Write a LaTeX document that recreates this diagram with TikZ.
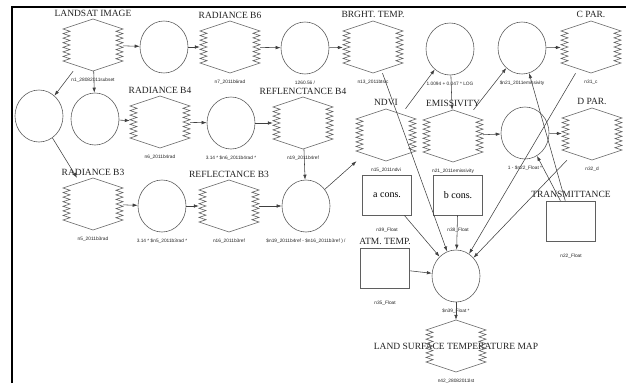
\documentclass[tikz,border=0pt]{standalone}
\usepackage{fontspec}
\setmainfont{Liberation Serif}
\setsansfont{Liberation Sans}
\usetikzlibrary{arrows.meta,shapes.geometric}
\definecolor{LineGray}{RGB}{95,95,95}
\definecolor{TextDark}{RGB}{35,35,35}
\tikzset{
  hexnode/.style={inner sep=0pt,minimum width=60pt,minimum height=52pt},
  opnode/.style={ellipse,draw=LineGray,line width=0.6pt,
    minimum width=48pt,minimum height=52pt,inner sep=0pt},
  valbox/.style={draw=LineGray,line width=0.6pt,minimum width=49pt,
    minimum height=40pt,inner sep=0pt,font=\fontsize{10}{11}\selectfont},
  shapeline/.style={draw=LineGray,line width=0.6pt},
  caplab/.style={font=\fontsize{9.5}{10}\selectfont,text=TextDark,inner sep=0.5pt},
  sublab/.style={font=\sffamily\fontsize{4.8}{5}\selectfont,text=TextDark,
    inner sep=0.5pt,yshift=-4pt},
  boxsub/.style={sublab,yshift=-6pt},
  arrow/.style={-{Latex[length=5pt,width=3.5pt]},line width=0.55pt,draw=black!75},
  frame/.style={line width=2.2pt,black}
}
% zigzag hexagon round a hexnode
\newcommand{\zighex}[1]{%
  \draw[shapeline,shift={(#1.center)}] (0,-26) -- (-30,-16)
    foreach \k in {1,...,7}{ -- (-23,{-16+(\k-0.5)*32/7}) -- (-30,{-16+\k*32/7})}
    -- (0,26) -- (30,16)
    foreach \k in {1,...,7}{ -- (23,{16-(\k-0.5)*32/7}) -- (30,{16-\k*32/7})}
    -- cycle;}

\begin{document}
\begin{tikzpicture}[x=1pt,y=-1pt,label distance=2pt]
  \useasboundingbox (0,0) rectangle (626,383);
  \draw[frame] (12,383) -- (12,7) -- (626,7);
  % top row
  \node[hexnode,label={[caplab]above:LANDSAT IMAGE},label={[sublab]below:n1\_28082011subset}] (n1) at (93,45) {};
  \node[opnode] (gain6) at (164,47) {};
  \node[hexnode,label={[caplab]above:RADIANCE B6},label={[sublab]below:n7\_2011b6rad}] (n7) at (230,47) {};
  \node[opnode,label={[sublab]below:1260.56 /}] (tconv) at (305,48) {};
  \node[hexnode,label={[caplab]above:BRGHT. TEMP.},label={[sublab]below:n13\_2011btsic}] (n13) at (373,47) {};
  \node[opnode,label={[sublab]below:1.0094 + 0.047 * LOG}] (emisop) at (450,49) {};
  \node[opnode,label={[sublab]below:\$n21\_2011emissivity}] (cop) at (522,48) {};
  \node[hexnode,label={[caplab]above:C PAR.},label={[sublab]below:n31\_c}] (n31) at (591,47) {};
  % middle row
  \node[opnode] (sel3) at (39,116) {};
  \node[opnode] (sel4) at (95,119) {};
  \node[hexnode,label={[caplab]above:RADIANCE B4},label={[sublab]below:n6\_2011b4rad}] (n6) at (160,122) {};
  \node[opnode,label={[sublab]below:3.14 * \$n6\_2011b4rad *}] (ref4op) at (231,123) {};
  \node[hexnode,label={[caplab]above:REFLENCTANCE B4},label={[sublab]below:n19\_2011b4ref}] (n19) at (303,123) {};
  \node[hexnode,label={[caplab]above:NDVI},label={[sublab]below:n15\_2011ndvi}] (n15) at (386,135) {};
  \node[hexnode,label={[caplab]above:EMISSIVITY},label={[sublab]below:n21\_2011emissivity}] (n21) at (453,136) {};
  \node[opnode,label={[sublab]below:1 - \$n22\_Float *}] (dop) at (525,133) {};
  \node[hexnode,label={[caplab]above:D PAR.},label={[sublab]below:n32\_d}] (n32) at (592,134) {};
  % bottom row
  \node[hexnode,label={[caplab]above:RADIANCE B3},label={[sublab]below:n5\_2011b3rad}] (n5) at (93,204) {};
  \node[opnode,label={[sublab]below:3.14 * \$n5\_2011b3rad *}] (ref3op) at (162,206) {};
  \node[hexnode,label={[caplab]above:REFLECTANCE B3},label={[sublab]below:n16\_2011b3ref}] (n16) at (229,206) {};
  \node[opnode,label={[sublab]below:\$n19\_2011b4ref - \$n16\_2011b3ref ) /}] (ndviop) at (306,206) {};
  % constants and result
  \node[valbox,label={[boxsub]below:n39\_Float}] (n39) at (387,195) {a cons.};
  \node[valbox,label={[boxsub]below:n38\_Float}] (n38) at (458,195) {b cons.};
  \node[valbox,label={[caplab]above:TRANSMITTANCE},label={[boxsub]below:n22\_Float}] (n22) at (571,221) {};
  \node[valbox,label={[caplab]above:ATM. TEMP.},label={[boxsub]below:n35\_Float}] (n35) at (385,268) {};
  \node[opnode,label={[sublab]below:\$n39\_Float *}] (lstop) at (456,276) {};
  \node[hexnode,caplab,label={[sublab]below:n42\_28082011lst}] (n42) at (456,346) {LAND SURFACE TEMPERATURE MAP};
  \foreach \h in {n1,n7,n13,n31,n6,n19,n15,n21,n32,n5,n16,n42} {\zighex{\h}}
  % connectors
  \draw[arrow] (n1) -- (gain6);
  \draw[arrow] (gain6) -- (n7);
  \draw[arrow] (n7) -- (tconv);
  \draw[arrow] (tconv) -- (n13);
  \draw[arrow] (n1) -- (sel3);
  \draw[arrow] (n1) -- (sel4);
  \draw[arrow] (sel4) -- (n6);
  \draw[arrow] (n6) -- (ref4op);
  \draw[arrow] (ref4op) -- (n19);
  \draw[arrow] (n19) -- (ndviop);
  \draw[arrow] (sel3) -- (n5);
  \draw[arrow] (n5) -- (ref3op);
  \draw[arrow] (ref3op) -- (n16);
  \draw[arrow] (n16) -- (ndviop);
  \draw[arrow] (ndviop) -- (n15);
  \draw[arrow] (n15) -- (emisop);
  \draw[arrow] (emisop) -- (n21);
  \draw[arrow] (n21) -- (cop);
  \draw[arrow] (cop) -- (n31);
  \draw[arrow] (n21) -- (dop);
  \draw[arrow] (dop) -- (n32);
  \draw[arrow] (n22) -- (dop);
  \draw[arrow] (n22) -- (cop);
  \draw[arrow] (n13) -- (lstop);
  \draw[arrow] (n31) -- (lstop);
  \draw[arrow] (n32) -- (lstop);
  \draw[arrow] (n39) -- (lstop);
  \draw[arrow] (n38) -- (lstop);
  \draw[arrow] (n35) -- (lstop);
  \draw[arrow] (lstop) -- (n42);
\end{tikzpicture}
\end{document}
